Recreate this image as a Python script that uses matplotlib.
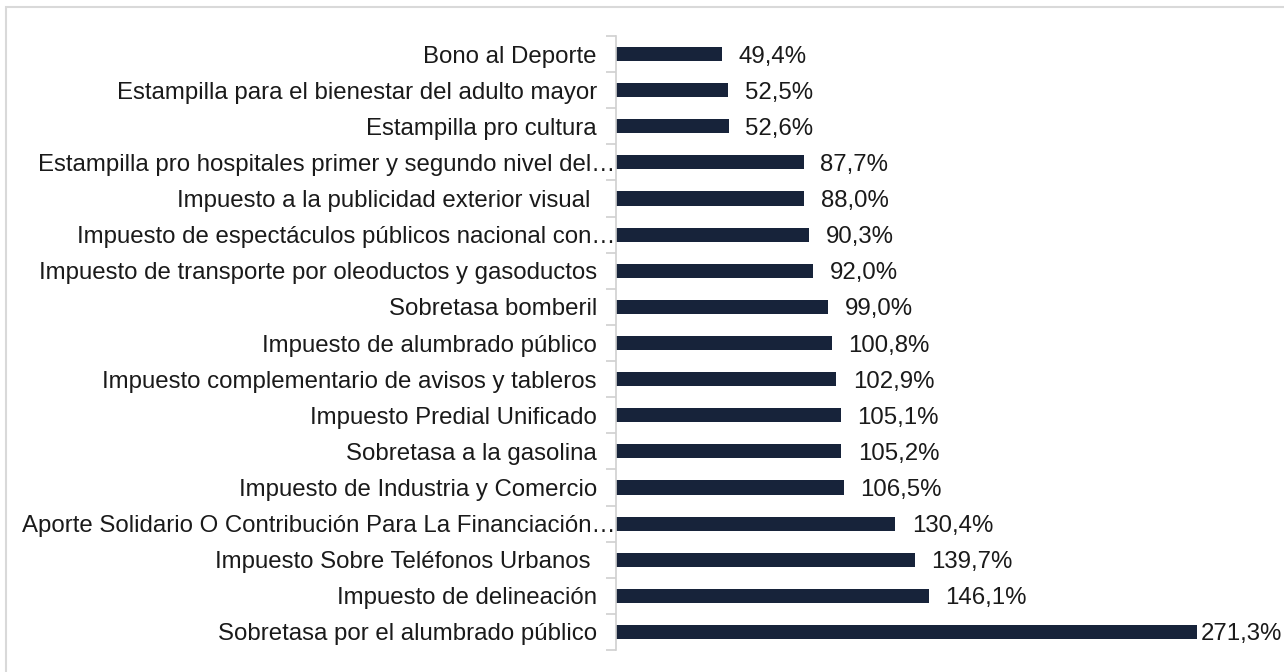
import matplotlib
matplotlib.use("Agg")
import matplotlib.pyplot as plt
from matplotlib.patches import Rectangle

categories = [
    "Bono al Deporte",
    "Estampilla para el bienestar del adulto mayor",
    "Estampilla pro cultura",
    "Estampilla pro hospitales primer y segundo nivel del…",
    "Impuesto a la publicidad exterior visual ",
    "Impuesto de espectáculos públicos nacional con…",
    "Impuesto de transporte por oleoductos y gasoductos",
    "Sobretasa bomberil",
    "Impuesto de alumbrado público",
    "Impuesto complementario de avisos y tableros",
    "Impuesto Predial Unificado",
    "Sobretasa a la gasolina",
    "Impuesto de Industria y Comercio",
    "Aporte Solidario O Contribución Para La Financiación…",
    "Impuesto Sobre Teléfonos Urbanos ",
    "Impuesto de delineación",
    "Sobretasa por el alumbrado público",
]
values = [49.4, 52.5, 52.6, 87.7, 88.0, 90.3, 92.0, 99.0, 100.8, 102.9,
          105.1, 105.2, 106.5, 130.4, 139.7, 146.1, 271.3]

plt.rcParams['font.family'] = ['Liberation Sans', 'DejaVu Sans']

W, H = 1284, 672
FS = 17.3
fig = plt.figure(figsize=(W / 100, H / 100), dpi=100)

# outer chart border (light grey)
fig.patches.append(Rectangle((6 / W, -0.05), 1.1, 1 - 7 / H + 0.05,
                             transform=fig.transFigure, fill=False,
                             edgecolor='#d9d9d9', linewidth=1.5))

ax = fig.add_axes([616 / W, 22 / H, 642 / W, 614 / H])
ypos = list(range(len(categories)))
bar_color = '#17233a'
ax.barh(ypos, values, height=0.39, color=bar_color, left=0)
ax.set_ylim(len(categories) - 0.5, -0.5)
ax.set_xlim(0, 300)

ax.set_yticks(ypos)
ax.set_yticklabels([])
ax.tick_params(axis='y', length=0)
# category boundary tick marks
ax.set_yticks([i - 0.5 for i in range(len(categories) + 1)], minor=True)
ax.tick_params(axis='y', which='minor', length=7, color='#d0d0d0', width=1.2)
ax.set_xticks([])

for s in ['top', 'right', 'bottom']:
    ax.spines[s].set_visible(False)
ax.spines['left'].set_color('#d0d0d0')
ax.spines['left'].set_linewidth(1.2)

# category labels (truncated ones run up to the axis line, as in the original)
for y, c in zip(ypos, categories):
    off = -0.7 if c.endswith('…') else -13.7
    ax.annotate(c, xy=(0, y), xytext=(off, 0), textcoords='offset points',
                va='center_baseline', ha='right', fontsize=FS,
                color='#1a1a1a', annotation_clip=False)

vmax = max(values)
for y, v in zip(ypos, values):
    off = 3 if v == vmax else 12
    ax.annotate(f"{v:.1f}%".replace('.', ','), xy=(v, y), xytext=(off, 0),
                textcoords='offset points', va='center_baseline', ha='left',
                fontsize=FS, color='#1a1a1a', annotation_clip=False)

fig.savefig('out.png', dpi=100, facecolor='white')
